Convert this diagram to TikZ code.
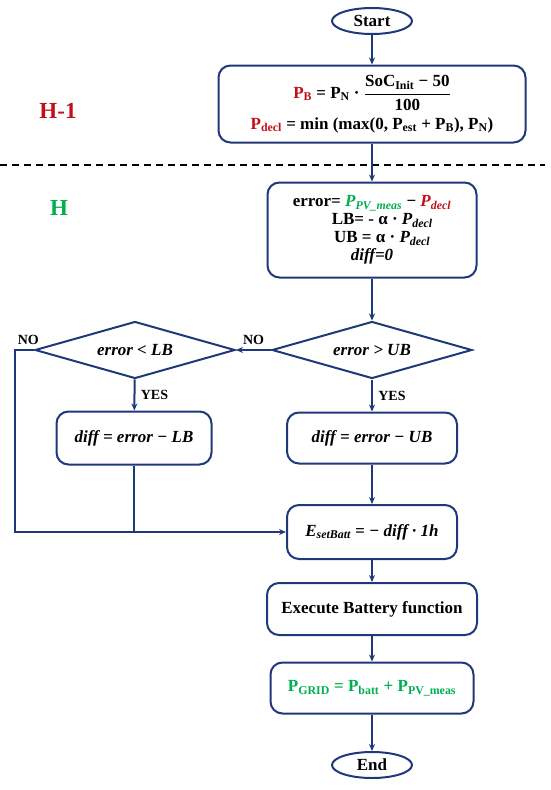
\documentclass[tikz,border=0pt]{standalone}
\usepackage{fontspec}
\setmainfont{Liberation Serif}
\usetikzlibrary{shapes.geometric,arrows.meta}
\definecolor{flowblue}{RGB}{31,56,122}
\definecolor{hred}{RGB}{192,16,24}
\definecolor{hgreen}{RGB}{0,176,80}
\newcommand{\low}[1]{\textsubscript{#1}}

\begin{document}
\begin{tikzpicture}[x=1pt, y=-1pt, line width=2pt, >={Stealth[length=7pt,width=6pt]},
    every node/.style={font=\fontsize{17}{18}\selectfont\bfseries},
    term/.style={ellipse, draw=flowblue, minimum width=80pt, minimum height=26pt, inner sep=0pt},
    proc/.style={rectangle, rounded corners=12pt, draw=flowblue, align=center},
    test/.style={diamond, draw=flowblue, minimum width=200pt, minimum height=57pt, aspect=3.5, inner sep=1pt},
    flow/.style={draw=flowblue, ->},
    lbl/.style={font=\fontsize{14}{16}\selectfont\bfseries},
    hour/.style={font=\fontsize{23}{24}\selectfont\bfseries}]
    \useasboundingbox (0,0) rectangle (550,790);

    \node [term] (start) at (372,21) {Start};
    \node [proc, minimum width=307pt, minimum height=77pt] (pb) at (372,104)
      {\textcolor{hred}{P\low{B}} = P\low{N} · $\displaystyle\frac{\mbox{SoC\low{Init} − 50}}{\mbox{100}}$\\[6pt]
       \textcolor{hred}{P\low{decl}} = min (max(0, P\low{est} + P\low{B}), P\low{N})};
    \node [hour, text=hred] (hprev) at (58,111) {H-1};
    \draw [dashed, line width=1.3pt, dash pattern=on 7pt off 5pt] (0,165) -- (545,165);
    \node [hour, text=hgreen] (hnow) at (59,208) {H};

    \node [proc, minimum width=209pt, minimum height=95pt] (init) at (372,230)
      {error= \textcolor{hgreen}{\textit{P\low{PV\_meas}}} − \textcolor{hred}{\textit{P\low{decl}}}\\
       \hspace{1.2em}LB= - α · \textit{P\low{decl}}\\
       \hspace{1.2em}UB = α · \textit{P\low{decl}}\\
       \textit{diff=0}};

    \node [test] (dub) at (372,350) {\textit{error > UB}};
    \node [test] (dlb) at (135,350) {\textit{error < LB}};
    \node [proc, minimum width=155pt, minimum height=53pt] (flb) at (134,438) {\textit{diff = error − LB}};
    \node [proc, minimum width=170pt, minimum height=51pt] (fub) at (372,438) {\textit{diff = error − UB}};
    \node [proc, minimum width=170pt, minimum height=54pt] (eset) at (372,532) {\textit{E\low{setBatt} = − diff · 1h}};
    \node [proc, minimum width=210pt, minimum height=52pt] (exec) at (372,609) {Execute Battery function};
    \node [proc, minimum width=203pt, minimum height=51pt] (grid) at (372,688)
      {\textcolor{hgreen}{P\low{GRID} = P\low{batt} + P\low{PV\_meas}}};
    \node [term] (stop) at (372,765) {End};
    \coordinate (loop) at (15,350);

    \draw [flow] (start.south) -- (pb);
    \draw [flow] (pb) -- (init);
    \draw [flow] (init) -- (dub);
    \draw [flow] (dub) -- (dlb) node [lbl, pos=0.5, above=1pt] {NO};
    \draw [flow] (dub) -- (fub) node [lbl, pos=0.5, right=2pt] {YES};
    \draw [flow] (dlb) -- (flb) node [lbl, pos=0.5, right=2pt] {YES};
    \draw [flow] (dlb.west) -- (loop) node [lbl, pos=0.3, above=1pt] {NO} |- (eset.west);
    \draw [draw=flowblue] (flb) -- (flb |- eset.west);
    \draw [flow] (fub) -- (eset);
    \draw [flow] (eset) -- (exec);
    \draw [flow] (exec) -- (grid);
    \draw [flow] (grid) -- (stop);
\end{tikzpicture}
\end{document}
